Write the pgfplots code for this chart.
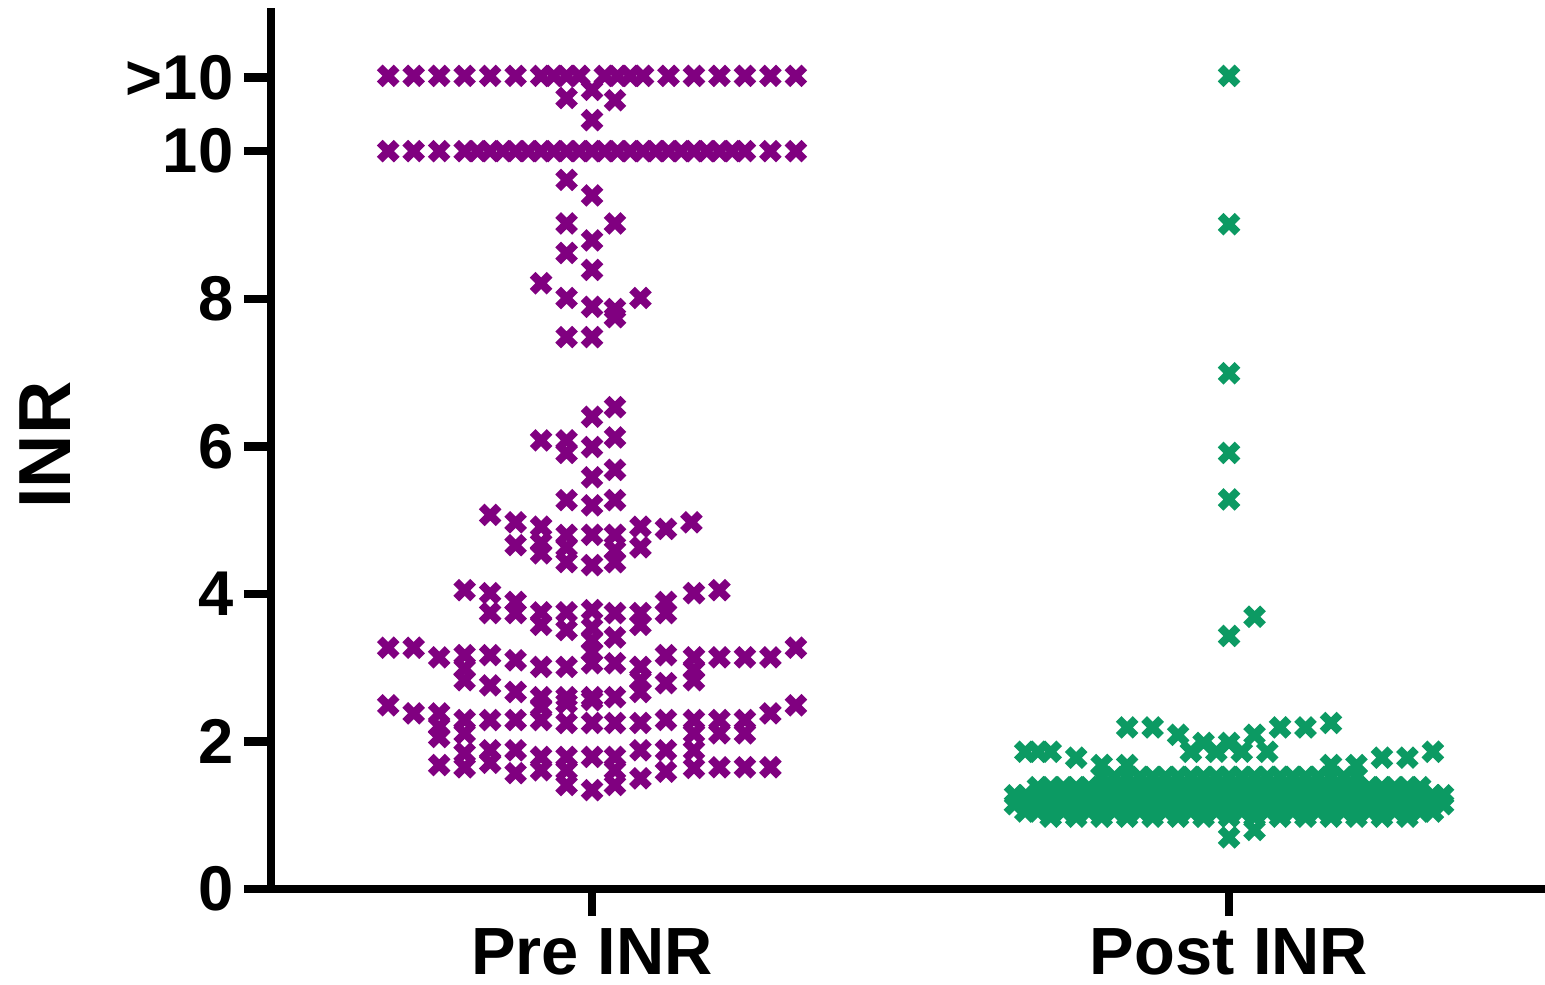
\documentclass[border=0pt]{standalone}
\usepackage{fontspec}
\setmainfont{Liberation Sans}
\usepackage{pgfplots}
\pgfplotsset{compat=1.18}
\definecolor{prepurple}{RGB}{128,0,128}
\definecolor{postgreen}{RGB}{12,154,99}
\begin{document}
\begin{tikzpicture}
\begin{axis}[
  at={(0,0)}, anchor=south west,
  scale only axis, width=12.74cm, height=8.81cm,
  xmin=-12.6, xmax=37.4, ymin=0, ymax=11.94,
  axis x line=bottom, axis y line=left,
  axis line style={-, line width=2.4pt, black},
  tick align=outside,
  major tick length=2.7mm,
  every tick/.style={black, line width=2.4pt},
  xtick={0,25}, xticklabels={Pre INR, Post INR},
  ytick={0,2,4,6,8,10,11}, yticklabels={0,2,4,6,8,10,{>10}},
  xticklabel style={font=\fontsize{19}{22}\selectfont\bfseries, inner sep=0pt, anchor=north, yshift=-1.2mm},
  yticklabel style={font=\fontsize{18}{22}\selectfont\bfseries, inner sep=0pt, anchor=east, xshift=-1.0mm},
  /pgf/number format/assume math mode=true,
  ylabel={INR},
  every axis y label/.style={at={(axis description cs:-0.1774,0.504)}, rotate=90, anchor=center, font=\fontsize{21}{24}\selectfont\bfseries},
  clip=false,
]
% Pre INR
\addplot[only marks, mark=x, mark size=3.4pt, line width=2.3pt, prepurple] coordinates {
(-8,11.02) (-7,11.02) (-6,11.02) (-5,11.02) (-4,11.02) (-3,11.02) (-2,11.02) (-1.5,11.02) (-1,11.02) (-0.5,11.02)
(0.5,11.02) (1,11.02) (1.5,11.02) (2,11.02) (3,11.02) (4,11.02) (5,11.02) (6,11.02) (7,11.02) (8,11.02)
(-1,10.72) (0,10.83) (0.9,10.69) (0,10.42)
(-8,10) (-7,10) (-6,10) (-5,10) (-4.5,10) (-4,10) (-3.5,10) (-3,10) (-2.5,10) (-2,10) (-1.5,10) (-1,10) (-0.5,10)
(0,10) (0.5,10) (1,10) (1.5,10) (2,10) (2.5,10) (3,10) (3.5,10) (4,10) (4.5,10) (5,10) (5.5,10) (6,10) (7,10) (8,10)
(-1,9.61) (0,9.40) (-1,9.02) (0.9,9.02) (0,8.79) (-1,8.62) (0,8.39) (-2,8.21) (-1,8.01) (0,7.89) (0.9,7.86) (0.9,7.75)
(1.9,8.01) (-1,7.48) (0,7.48)
(0.9,6.53) (0,6.40) (-2,6.08) (-1,6.08) (-1,5.91) (0.9,6.12) (0,5.99) (0.9,5.68) (0,5.58) (-1,5.27) (0.9,5.27) (0,5.20)
(-4,5.07) (-3,4.97) (-2,4.91) (-1,4.80) (0,4.80) (0.9,4.80) (1.9,4.91) (2.9,4.88) (3.9,4.97)
(-3,4.66) (-2,4.69) (-2,4.55) (-1,4.63) (-1,4.43) (0.9,4.59) (0,4.39) (0.9,4.43) (1.9,4.63)
(-5,4.05) (-4,4.01) (-3,3.89) (-4,3.74) (-3,3.74) (-2,3.75) (-2,3.58) (-1,3.75) (-1,3.51) (0,3.78) (0.9,3.74)
(0,3.54) (0,3.37) (0.9,3.41) (1.9,3.74) (1.9,3.58) (2.9,3.89) (2.9,3.74) (4,4.01) (5,4.05)
(-8,3.27) (-7,3.27) (-6,3.14) (-5,3.17) (-5,2.99) (-5,2.83) (-4,3.17) (-3,3.10) (-4,2.76) (-3,2.67) (-2,3.01) (-2,2.60)
(-1,3.01) (-1,2.60) (0,3.06) (0,3.21) (0.9,3.06) (0,2.60) (0.9,2.60) (1.9,3.01) (1.9,2.83) (1.9,2.67) (2.9,3.17) (2.9,2.79)
(4,3.14) (4,2.97) (4,2.83) (5,3.14) (6,3.14) (7,3.14) (8,3.27)
(-8,2.49) (-7,2.38) (-6,2.38) (-6,2.20) (-6,2.06) (-5,2.29) (-5,2.11) (-4,2.29) (-3,2.29) (-2,2.47) (-2,2.29) (-1,2.52)
(-1,2.25) (0,2.56) (0,2.25) (0.9,2.25) (1.9,2.25) (2.9,2.29) (4,2.29) (4,2.11) (5,2.29) (5,2.11) (6,2.29) (6,2.11) (7,2.38) (8,2.49)
(-6,1.68) (-5,1.84) (-5,1.65) (-4,1.88) (-3,1.88) (-4,1.71) (-3,1.57) (-2,1.79) (-2,1.61) (-1,1.79) (-1,1.61) (-1,1.41)
(0,1.79) (0.9,1.79) (0.9,1.61) (0.9,1.41) (0,1.34) (1.9,1.88) (1.9,1.50) (2.9,1.88) (2.9,1.59) (4,1.88) (4,1.64)
(5,1.65) (6,1.65) (7,1.65)
};
% Post INR
\addplot[only marks, mark=x, mark size=3.4pt, line width=2.3pt, postgreen] coordinates {
(25,11.02) (25,9.01) (25,6.99) (25,5.91) (25,5.28) (25,3.43) (26,3.69)
(21,2.19) (22,2.19) (23,2.09) (24,1.98) (25,1.98) (26,2.09) (27,2.19) (28,2.19) (29,2.25)
(17,1.86) (17.5,1.86) (18,1.86) (19,1.78) (20,1.68) (21,1.68) (23.5,1.86) (24.5,1.86) (25.5,1.86) (26.5,1.86)
(29,1.68) (30,1.68) (31,1.78) (32,1.78) (33,1.86)
(20,1.52) (20.5,1.52) (21,1.52) (21.5,1.52) (22,1.52) (22.5,1.52) (23,1.52) (23.5,1.52) (24,1.52) (24.5,1.52) (25,1.52)
(25.5,1.52) (26,1.52) (26.5,1.52) (27,1.52) (27.5,1.52) (28,1.52) (28.5,1.52) (29,1.52) (29.5,1.52) (30,1.52)
(17.5,1.38) (18,1.38) (18.5,1.38) (19,1.38) (19.5,1.38) (20,1.38) (20.5,1.38) (21,1.38) (21.5,1.38) (22,1.38) (22.5,1.38)
(23,1.38) (23.5,1.38) (24,1.38) (24.5,1.38) (25,1.38) (25.5,1.38) (26,1.38) (26.5,1.38) (27,1.38) (27.5,1.38) (28,1.38)
(28.5,1.38) (29,1.38) (29.5,1.38) (30,1.38) (30.5,1.38) (31,1.38) (31.5,1.38) (32,1.38) (32.5,1.38)
(16.6,1.27) (17,1.27) (17.5,1.27) (18,1.27) (18.5,1.27) (19,1.27) (19.5,1.27) (20,1.27) (20.5,1.27) (21,1.27) (21.5,1.27)
(22,1.27) (22.5,1.27) (23,1.27) (23.5,1.27) (24,1.27) (24.5,1.27) (25,1.27) (25.5,1.27) (26,1.27) (26.5,1.27) (27,1.27)
(27.5,1.27) (28,1.27) (28.5,1.27) (29,1.27) (29.5,1.27) (30,1.27) (30.5,1.27) (31,1.27) (31.5,1.27) (32,1.27) (32.5,1.27)
(33,1.27) (33.4,1.27)
(16.6,1.15) (17,1.15) (17.5,1.15) (18,1.15) (18.5,1.15) (19,1.15) (19.5,1.15) (20,1.15) (20.5,1.15) (21,1.15) (21.5,1.15)
(22,1.15) (22.5,1.15) (23,1.15) (23.5,1.15) (24,1.15) (24.5,1.15) (25,1.15) (25.5,1.15) (26,1.15) (26.5,1.15) (27,1.15)
(27.5,1.15) (28,1.15) (28.5,1.15) (29,1.15) (29.5,1.15) (30,1.15) (30.5,1.15) (31,1.15) (31.5,1.15) (32,1.15) (32.5,1.15)
(33,1.15) (33.4,1.15)
(17,1.05) (17.5,1.05) (18,1.05) (18.5,1.05) (19,1.05) (19.5,1.05) (20,1.05) (20.5,1.05) (21,1.05) (21.5,1.05) (22,1.05)
(22.5,1.05) (23,1.05) (23.5,1.05) (24,1.05) (24.5,1.05) (25,1.05) (25.5,1.05) (26,1.05) (26.5,1.05) (27,1.05) (27.5,1.05)
(28,1.05) (28.5,1.05) (29,1.05) (29.5,1.05) (30,1.05) (30.5,1.05) (31,1.05) (31.5,1.05) (32,1.05) (32.5,1.05) (33,1.05)
(18,0.98) (19,0.98) (20,0.98) (21,0.98) (22,0.98) (23,0.98) (24,0.98) (25,0.98) (26,0.98) (27,0.98) (28,0.98) (29,0.98)
(30,0.98) (31,0.98) (32,0.98)
(25,0.70) (26,0.80)
};
\end{axis}
\pgfresetboundingbox
\path[use as bounding box] (-2.71cm,-0.95cm) rectangle (12.74cm,8.89cm);
\end{tikzpicture}
\end{document}
